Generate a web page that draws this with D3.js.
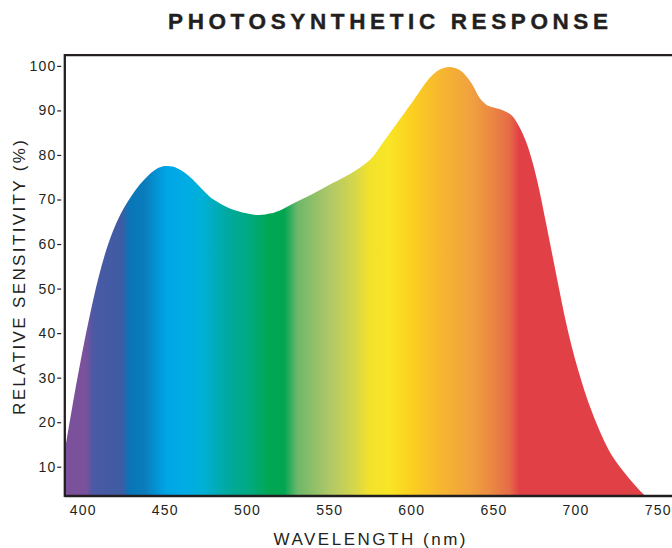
<!DOCTYPE html>
<html>
<head>
<meta charset="utf-8">
<script src="https://cdn.jsdelivr.net/npm/d3@7/dist/d3.min.js"></script>
<style>
  html, body { margin: 0; padding: 0; background: #fff; }
  svg { display: block; }
  text { font-family: "Liberation Sans", Arial, Helvetica, sans-serif; fill: #231f20; }
</style>
</head>
<body>
<svg id="chart" width="672" height="548"></svg>
<script>
// ---- data ----
const wavelength = [389.6, 395, 400, 405, 410, 415, 420, 425, 430, 435, 440, 445, 450, 455, 460, 465, 470, 475, 480, 490, 500, 508, 515, 520, 530, 540, 550, 560, 566, 572, 577, 582, 592, 602, 605, 610, 615, 620, 625, 630, 634, 638, 642, 646, 650, 654, 658, 662, 666, 670, 674, 678, 682, 686, 690, 694, 698, 702, 706, 710, 714, 718, 722, 726, 730, 734, 738, 742, 746];
const sensitivity = [13.8, 25.5, 35.5, 44.5, 52.5, 59.0, 64.0, 67.8, 70.8, 73.3, 75.3, 76.8, 77.5, 77.4, 76.6, 75.3, 73.5, 71.6, 70.0, 68.0, 66.9, 66.5, 66.9, 67.5, 69.4, 71.2, 73.2, 75.1, 76.4, 77.9, 79.6, 82.2, 87.3, 92.4, 94.0, 96.6, 98.5, 99.5, 99.7, 99.0, 97.6, 95.5, 92.8, 91.3, 90.7, 90.3, 89.7, 88.7, 86.4, 83.2, 78.6, 72.6, 65.4, 58.0, 50.5, 43.3, 37.0, 31.6, 26.8, 22.6, 18.9, 15.6, 12.8, 10.6, 8.7, 6.9, 5.2, 3.7, 2.5];
const xTicks = [400, 450, 500, 550, 600, 650, 700, 750];
const yTicks = [10, 20, 30, 40, 50, 60, 70, 80, 90, 100];
const spectrumNm = [389, 402, 407, 424, 429, 438, 451, 461, 473, 490, 502, 514, 523, 531, 551, 565, 575, 587, 599, 617, 636, 648, 660, 666, 770];
const spectrumColors = ["#7b519c", "#7b519c", "#4a5aa4", "#3e5ca3", "#0876b8", "#0a7cbc", "#00a5e5", "#00abe6", "#00b0d8", "#00a99a", "#00aa80", "#00a651", "#00a651", "#6db76a", "#b0c867", "#d3d54e", "#f3e22c", "#f8e526", "#fcd21e", "#f7b82f", "#f1a23e", "#eb8b42", "#e66c47", "#e24047", "#e24047"];
const titleText = "PHOTOSYNTHETIC RESPONSE";
const xTitle = "WAVELENGTH (nm)";
const yTitle = "RELATIVE SENSITIVITY (%)";

// ---- layout ----
const svg = d3.select("#chart");
const plot = { left: 64.8, top: 55.2, right: 690, bottom: 496 };
const x = d3.scaleLinear().domain([389.6, 770]).range([65, 690]);
const y = d3.scaleLinear().domain([3.43, 102.4]).range([plot.bottom, plot.top]);
const ink = "#231f20";

const series = wavelength.map((w, i) => ({ w, v: sensitivity[i] }));

// gradient
const defs = svg.append("defs");
const grad = defs.append("linearGradient")
  .attr("id", "spectrum")
  .attr("gradientUnits", "userSpaceOnUse")
  .attr("x1", x(spectrumNm[0])).attr("x2", x(spectrumNm[spectrumNm.length - 1]))
  .attr("y1", 0).attr("y2", 0);
const span = spectrumNm[spectrumNm.length - 1] - spectrumNm[0];
spectrumNm.forEach((nm, i) => {
  grad.append("stop")
    .attr("offset", ((nm - spectrumNm[0]) / span))
    .attr("stop-color", spectrumColors[i]);
});
defs.append("clipPath").attr("id", "plotclip")
  .append("rect")
  .attr("x", plot.left).attr("y", plot.top)
  .attr("width", plot.right - plot.left).attr("height", plot.bottom - plot.top);

const area = d3.area()
  .x(d => x(d.w))
  .y0(y(y.domain()[0]))
  .y1(d => y(d.v))
  .curve(d3.curveCatmullRom.alpha(0.5));

svg.append("path")
  .datum(series)
  .attr("clip-path", "url(#plotclip)")
  .attr("fill", "url(#spectrum)")
  .attr("d", area);

// frame
const frame = svg.append("g").attr("stroke", ink).attr("stroke-width", 2.3).attr("fill", "none");
frame.append("line").attr("x1", plot.left).attr("x2", plot.left).attr("y1", plot.top - 1.1).attr("y2", plot.bottom + 1.1);
frame.append("line").attr("x1", plot.left).attr("x2", 700).attr("y1", plot.top).attr("y2", plot.top);
frame.append("line").attr("x1", plot.left).attr("x2", 700).attr("y1", plot.bottom).attr("y2", plot.bottom);

// y axis
const yAxis = svg.append("g")
  .attr("transform", "translate(61.2,0)")
  .call(d3.axisLeft(y).tickValues(yTicks).tickSize(4).tickPadding(2).tickFormat(d3.format("d")));
yAxis.select(".domain").remove();
yAxis.selectAll("line").attr("stroke", ink).attr("stroke-width", 1.2);
yAxis.selectAll("text")
  .style("font-size", "14px").style("letter-spacing", "1.2px").attr("fill", ink)
  .attr("dx", "1.2px");

// x axis
const xAxis = svg.append("g")
  .attr("transform", `translate(0,${plot.bottom})`)
  .call(d3.axisBottom(x).tickValues(xTicks).tickSize(0).tickPadding(9.5).tickFormat(d3.format("d")));
xAxis.select(".domain").remove();
xAxis.selectAll("text")
  .style("font-size", "14px").style("letter-spacing", "1.2px").attr("fill", ink)
  .attr("dx", "0.6px");

// helper: fit text to a length with letter spacing
function fitText(sel, targetLen) {
  const n = sel.text().length;
  sel.style("letter-spacing", "0px");
  const w = sel.node().getComputedTextLength();
  const ls = (targetLen - w) / (n - 1);
  sel.style("letter-spacing", ls + "px");
}

// title
const t = svg.append("text")
  .attr("x", 168).attr("y", 29)
  .style("font-size", "22.5px").style("font-weight", "bold")
  .style("stroke", ink).style("stroke-width", "0.4px")
  .text(titleText);
fitText(t, 440);

// x title
const xt = svg.append("text")
  .attr("x", 273.5).attr("y", 545)
  .style("font-size", "17px")
  .text(xTitle);
fitText(xt, 192);

// y title
const yt = svg.append("text")
  .attr("transform", "translate(25,415) rotate(-90)")
  .style("font-size", "17px")
  .text(yTitle);
fitText(yt, 275);
</script>
</body>
</html>
